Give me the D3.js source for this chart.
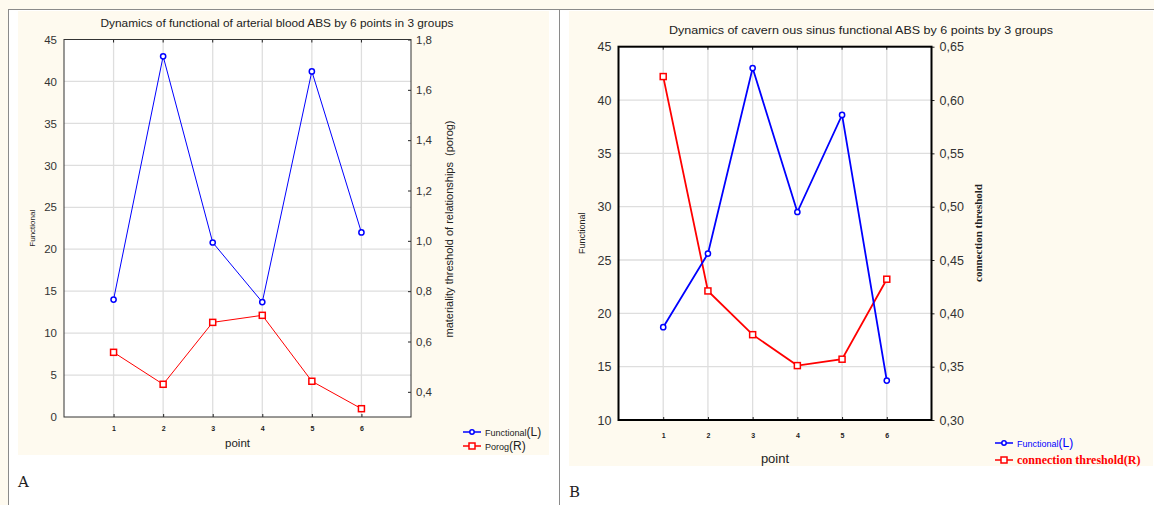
<!DOCTYPE html>
<html>
<head>
<meta charset="utf-8">
<script src="https://cdn.jsdelivr.net/npm/d3@7"></script>
<style>
  body { margin: 0; background: #fefaef; }
  svg { display: block; }
</style>
</head>
<body>
<div id="chart"></div>
<script>
// values
var points = [1, 2, 3, 4, 5, 6];

var arterialFunctional = [14.0, 43.0, 20.8, 13.7, 41.2, 22.0];
var arterialPorog      = [0.557, 0.430, 0.676, 0.704, 0.442, 0.333];

var cavernousFunctional = [18.7, 25.6, 43.0, 29.5, 38.6, 13.7];
var cavernousThreshold  = [0.622, 0.421, 0.380, 0.351, 0.357, 0.432];

var leftTicksA  = [0, 5, 10, 15, 20, 25, 30, 35, 40, 45];
var rightTicksA = [0.4, 0.6, 0.8, 1.0, 1.2, 1.4, 1.6, 1.8];
var leftTicksB  = [10, 15, 20, 25, 30, 35, 40, 45];
var rightTicksB = [0.30, 0.35, 0.40, 0.45, 0.50, 0.55, 0.60, 0.65];

var W = 1154, H = 505;
var sans = "'Liberation Sans', Arial, sans-serif";
var serif = "'Liberation Serif', 'Times New Roman', serif";

var comma = d3.formatLocale({decimal: ",", thousands: " ", grouping: [3], currency: ["", ""]});
var fmt1 = comma.format(".1f"), fmt2 = comma.format(".2f");

var svg = d3.select("#chart").append("svg")
    .attr("width", W)
    .attr("height", H);

// page frame: white panels with grey borders, cream insets
svg.append("rect").attr("x", 8).attr("y", 9).attr("width", 551).attr("height", H - 9).attr("fill", "#fff");
svg.append("rect").attr("x", 559).attr("y", 9).attr("width", W - 559).attr("height", H - 9).attr("fill", "#fff");
svg.append("rect").attr("x", 18).attr("y", 11).attr("width", 531).attr("height", 444).attr("fill", "#fefaef");
svg.append("rect").attr("x", 569).attr("y", 11).attr("width", 584).attr("height", 455).attr("fill", "#fefaef");
svg.append("line").attr("x1", 8).attr("x2", W).attr("y1", 9.5).attr("y2", 9.5).attr("stroke", "#8a8a8a");
svg.append("line").attr("x1", 8.5).attr("x2", 8.5).attr("y1", 9).attr("y2", H).attr("stroke", "#8a8a8a");
svg.append("line").attr("x1", 559.5).attr("x2", 559.5).attr("y1", 9).attr("y2", H).attr("stroke", "#8a8a8a");

function drawPanel(p) {
  var g = svg.append("g");

  var x = d3.scaleLinear().domain([0, 7]).range([p.left, p.right]);
  var yL = d3.scaleLinear().domain(p.leftDomain).range([p.bottom, p.top]);
  var yR = d3.scaleLinear().domain(p.rightDomain).range([p.bottom, p.top]);

  // plot background
  g.append("rect")
    .attr("x", p.left).attr("y", p.top)
    .attr("width", p.right - p.left).attr("height", p.bottom - p.top)
    .attr("fill", "#fff");

  // grid
  g.append("g").selectAll("line")
    .data(p.leftTicks.slice(1, -1))
    .enter().append("line")
      .attr("x1", p.left).attr("x2", p.right)
      .attr("y1", function(d) { return yL(d); })
      .attr("y2", function(d) { return yL(d); })
      .attr("stroke", "#dedede").attr("stroke-width", 1.3);
  g.append("g").selectAll("line")
    .data(points)
    .enter().append("line")
      .attr("x1", function(d) { return x(d); })
      .attr("x2", function(d) { return x(d); })
      .attr("y1", p.top).attr("y2", p.bottom)
      .attr("stroke", "#dedede").attr("stroke-width", 1.3);

  // left axis
  var axL = g.append("g")
    .attr("transform", "translate(" + p.left + ",0)")
    .call(d3.axisLeft(yL).tickValues(p.leftTicks).tickSize(0).tickPadding(7).tickFormat(d3.format("d")));
  axL.select(".domain").remove();
  axL.selectAll("text").style("font", p.tickFont).attr("fill", "#333");

  // right axis
  var axR = g.append("g")
    .attr("transform", "translate(" + p.right + ",0)")
    .call(d3.axisRight(yR).tickValues(p.rightTicks).tickSize(p.rightTick).tickPadding(5).tickFormat(p.rightFmt));
  axR.select(".domain").remove();
  axR.selectAll("line").attr("stroke", "#222");
  axR.selectAll("text").style("font", p.tickFont).attr("fill", "#333");

  // bottom axis, tiny bold labels
  var axB = g.append("g")
    .attr("transform", "translate(0," + p.bottom + ")")
    .call(d3.axisBottom(x).tickValues(points).tickSize(-3).tickPadding(p.xPad).tickFormat(d3.format("d")));
  axB.select(".domain").remove();
  axB.selectAll("line").attr("stroke", "#222");
  axB.selectAll("text").style("font", "bold 7px " + sans).attr("fill", "#222");

  // small ticks along top edge
  g.append("g").selectAll("line")
    .data(points)
    .enter().append("line")
      .attr("x1", function(d) { return x(d); })
      .attr("x2", function(d) { return x(d); })
      .attr("y1", p.top).attr("y2", p.top + 3)
      .attr("stroke", "#222");

  // frame
  g.append("rect")
    .attr("x", p.left).attr("y", p.top)
    .attr("width", p.right - p.left).attr("height", p.bottom - p.top)
    .attr("fill", "none").attr("stroke", p.frameColor).attr("stroke-width", p.frameWidth);

  // series
  var lineL = d3.line().x(function(d, i) { return x(points[i]); }).y(function(d) { return yL(d); });
  var lineR = d3.line().x(function(d, i) { return x(points[i]); }).y(function(d) { return yR(d); });

  g.append("path").datum(p.red)
    .attr("d", lineR).attr("fill", "none")
    .attr("stroke", "#ff0000").attr("stroke-width", p.lineWidth);
  g.append("path").datum(p.blue)
    .attr("d", lineL).attr("fill", "none")
    .attr("stroke", "#0000ff").attr("stroke-width", p.lineWidth);

  g.append("g").selectAll("rect")
    .data(p.red)
    .enter().append("rect")
      .attr("x", function(d, i) { return x(points[i]) - 3; })
      .attr("y", function(d) { return yR(d) - 3; })
      .attr("width", 6).attr("height", 6)
      .attr("fill", "#fff").attr("stroke", "#ff0000").attr("stroke-width", 1.5);
  g.append("g").selectAll("circle")
    .data(p.blue)
    .enter().append("circle")
      .attr("cx", function(d, i) { return x(points[i]); })
      .attr("cy", function(d) { return yL(d); })
      .attr("r", 2.6)
      .attr("fill", "#fff").attr("stroke", "#0000ff").attr("stroke-width", 1.5);

  // titles and axis labels
  g.append("text")
    .attr("x", p.titleX).attr("y", p.titleY)
    .attr("text-anchor", "middle")
    .attr("textLength", p.titleLen).attr("lengthAdjust", "spacingAndGlyphs")
    .style("font", "11px " + sans).attr("fill", "#222")
    .text(p.title);

  g.append("text")
    .attr("transform", "translate(" + p.leftLabelX + "," + ((p.top + p.bottom) / 2) + ") rotate(-90)")
    .attr("text-anchor", "middle")
    .style("font", p.leftLabelFont).attr("fill", "#222")
    .text("Functional");

  g.append("text")
    .attr("transform", "translate(" + p.rightLabelX + "," + p.rightLabelY + ") rotate(-90)")
    .attr("text-anchor", "middle")
    .style("font", p.rightLabelFont).attr("fill", "#222")
    .style("white-space", "pre")
    .text(p.rightLabel);

  g.append("text")
    .attr("x", x(3.5)).attr("y", p.pointY)
    .attr("text-anchor", "middle")
    .style("font", p.pointFont).attr("fill", "#222")
    .text("point");

  // legend
  var leg = g.append("g");
  leg.append("line").attr("x1", p.legX).attr("x2", p.legX + 18)
    .attr("y1", p.legY).attr("y2", p.legY).attr("stroke", "#0000ff").attr("stroke-width", 1.5);
  leg.append("circle").attr("cx", p.legX + 9).attr("cy", p.legY).attr("r", 2.2)
    .attr("fill", "#fff").attr("stroke", "#0000ff").attr("stroke-width", 1.5);
  leg.append("line").attr("x1", p.legX).attr("x2", p.legX + 18)
    .attr("y1", p.legY + p.legGap).attr("y2", p.legY + p.legGap).attr("stroke", "#ff0000").attr("stroke-width", 1.5);
  leg.append("rect").attr("x", p.legX + 6).attr("y", p.legY + p.legGap - 3).attr("width", 6).attr("height", 6)
    .attr("fill", "#fff").attr("stroke", "#ff0000").attr("stroke-width", 1.5);

  var t1 = leg.append("text").attr("x", p.legX + 22).attr("y", p.legY + 4).attr("fill", p.leg1Color);
  t1.append("tspan").style("font", "9px " + sans).text("Functional");
  t1.append("tspan").style("font", "12px " + sans).text("(L)");

  var t2 = leg.append("text").attr("x", p.legX + 22).attr("y", p.legY + p.legGap + 4).attr("fill", p.leg2Color);
  if (p.leg2Serif) {
    t2.append("tspan").style("font", "bold 12px " + serif).text(p.leg2Name + "(R)");
  } else {
    t2.append("tspan").style("font", "9px " + sans).text(p.leg2Name);
    t2.append("tspan").style("font", "12px " + sans).text("(R)");
  }
}

drawPanel({
  left: 64, right: 411, top: 39.5, bottom: 417,
  leftDomain: [0, 45], rightDomain: [0.3, 1.8],
  leftTicks: leftTicksA, rightTicks: rightTicksA, rightFmt: fmt1, rightTick: -3,
  tickFont: "11.5px " + sans, xPad: 9,
  frameColor: "#333", frameWidth: 1, lineWidth: 1,
  blue: arterialFunctional, red: arterialPorog,
  title: "Dynamics of functional of arterial blood ABS by 6 points in 3 groups",
  titleX: 277, titleY: 27, titleLen: 353,
  leftLabelX: 35, leftLabelFont: "8px " + sans,
  rightLabelX: 453, rightLabelY: 229,
  rightLabel: "materiality threshold of relationships  (porog)",
  rightLabelFont: "11px " + sans,
  pointY: 447, pointFont: "11.5px " + sans,
  legX: 463, legY: 432, legGap: 14,
  leg1Color: "#222", leg2Color: "#222", leg2Name: "Porog", leg2Serif: false
});

drawPanel({
  left: 618.5, right: 931.5, top: 46.7, bottom: 420,
  leftDomain: [10, 45], rightDomain: [0.30, 0.65],
  leftTicks: leftTicksB, rightTicks: rightTicksB, rightFmt: fmt2, rightTick: 3,
  tickFont: "12.5px " + sans, xPad: 13,
  frameColor: "#000", frameWidth: 2, lineWidth: 1.8,
  blue: cavernousFunctional, red: cavernousThreshold,
  title: "Dynamics of cavern ous sinus functional ABS by 6 points by 3 groups",
  titleX: 861, titleY: 34, titleLen: 384,
  leftLabelX: 585, leftLabelFont: "9px " + sans,
  rightLabelX: 982, rightLabelY: 233,
  rightLabel: "connection threshold",
  rightLabelFont: "bold 11px " + serif,
  pointY: 463, pointFont: "13px " + sans,
  legX: 995, legY: 443, legGap: 17,
  leg1Color: "#0000ff", leg2Color: "#ff0000", leg2Name: "connection threshold", leg2Serif: true
});

// panel letters
svg.append("text").attr("x", 18).attr("y", 487)
  .style("font", "15px 'DejaVu Serif', serif").attr("fill", "#222").text("A");
svg.append("text").attr("x", 569).attr("y", 497)
  .style("font", "15px 'DejaVu Serif', serif").attr("fill", "#222").text("B");
</script>
</body>
</html>
